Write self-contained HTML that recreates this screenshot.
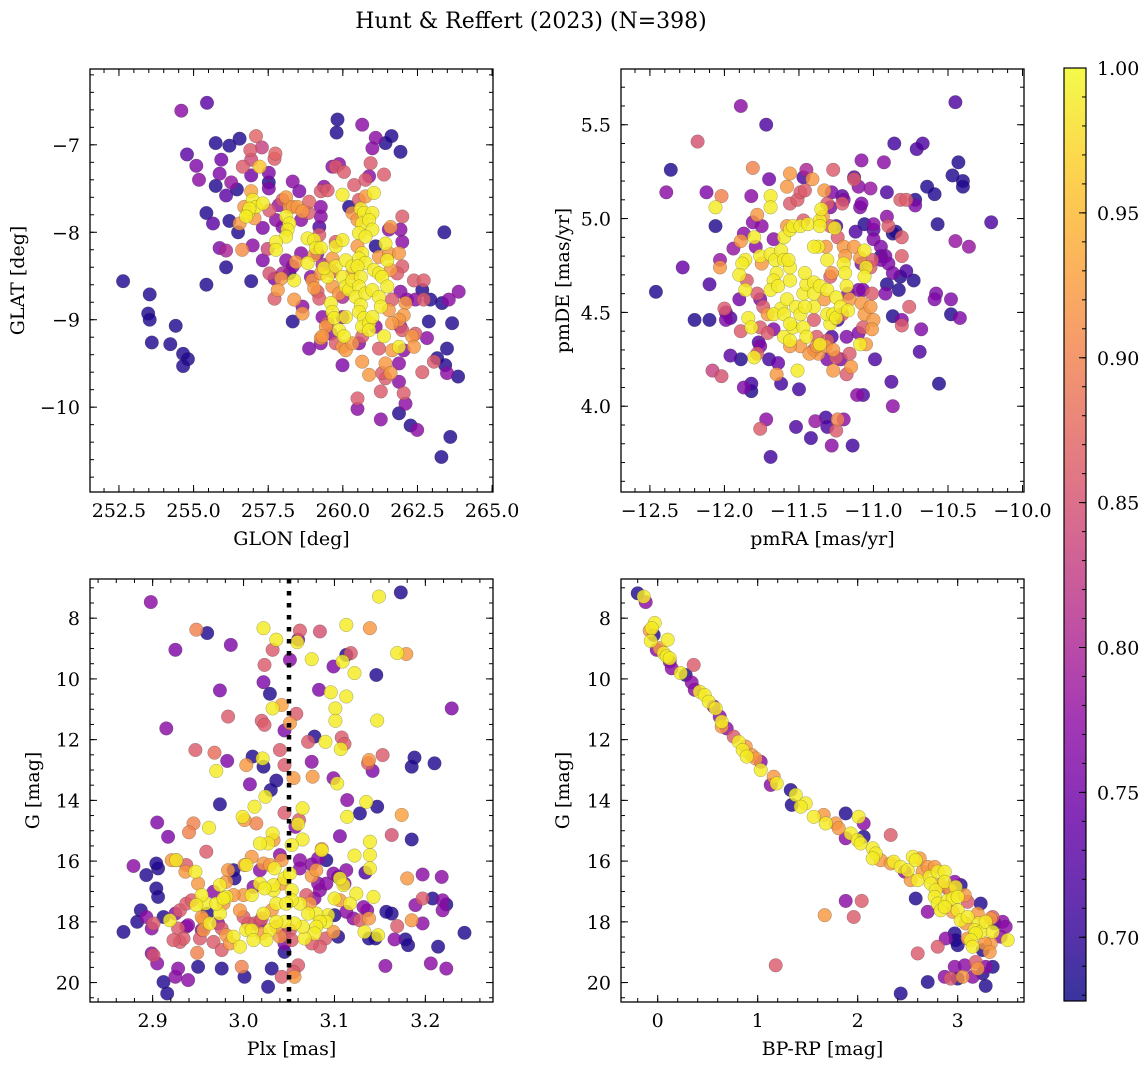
<!DOCTYPE html>
<html><head><meta charset="utf-8"><style>
html,body{margin:0;padding:0;background:#fff;}
svg{display:block;font-family:"DejaVu Serif","Liberation Serif",serif;}
</style></head><body>
<svg id="fig" width="1148" height="1068" viewBox="0 0 1148 1068" xmlns="http://www.w3.org/2000/svg">
<text x="531" y="28" font-size="22" text-anchor="middle">Hunt &amp; Reffert (2023) (N=398)</text>
</svg>
<script>
// ---- data ----
const D=0.69,Y=0.99;
const galacticPts=[
[252.64,-8.56,D],[253.53,-8.71,D],[253.48,-8.93,D],[253.53,-9.00,D],[253.60,-9.26,D],[254.22,-9.28,D],[254.40,-9.07,D],[254.65,-9.39,D],[254.81,-9.45,D],[254.65,-9.53,D],
[254.59,-6.61,0.77],[255.45,-6.52,0.73],[254.78,-7.11,0.73],[255.09,-7.24,0.76],[255.18,-7.40,0.77],[255.43,-7.78,D],[255.65,-7.90,0.73],[255.74,-6.98,D],[255.93,-7.17,0.75],[255.87,-7.33,0.76],
[255.74,-7.47,D],[256.09,-7.58,0.73],[256.20,-7.01,D],[256.54,-6.93,D],[256.26,-7.43,0.78],[256.45,-7.51,D],[255.87,-8.18,0.76],[256.09,-8.21,0.80],[256.09,-8.40,D],[255.43,-8.60,D],
[256.20,-7.87,D],[256.49,-8.00,D],[256.63,-8.20,0.91],[256.93,-8.56,D],[256.98,-8.15,0.77],[256.65,-7.25,0.86],[256.93,-7.35,0.75],[257.09,-6.90,0.87],[256.90,-7.06,0.86],[256.93,-7.17,0.84],
[257.29,-7.03,0.83],[257.21,-7.25,0.96],[257.52,-7.32,0.76],[257.52,-7.43,D],[257.52,-7.50,0.76],[257.74,-7.10,0.87],[257.71,-7.16,0.86],[256.93,-7.53,0.93],[256.70,-7.71,0.92],[256.82,-7.78,Y],
[256.98,-7.63,Y],[257.09,-7.71,Y],[257.32,-7.67,Y],[256.87,-7.73,Y],[256.76,-7.82,Y],[257.04,-7.84,0.92],[256.54,-7.90,0.92],[257.32,-7.95,0.76],[257.32,-8.32,0.76],[257.48,-8.19,0.84],
[257.54,-7.75,0.86],[257.85,-7.69,0.78],[257.76,-7.86,0.77],[257.98,-7.94,0.76],[258.21,-7.71,0.92],[258.10,-7.82,Y],[258.21,-7.90,Y],[258.15,-7.97,Y],[258.10,-8.05,Y],[257.76,-8.11,Y],
[257.76,-8.20,Y],[258.32,-7.42,0.77],[258.54,-7.53,0.76],[257.98,-7.63,0.86],[258.10,-7.60,0.92],[258.32,-7.71,0.92],[258.48,-7.71,0.92],[258.65,-7.76,0.92],[258.87,-7.65,0.87],[258.85,-7.78,0.86],
[258.60,-7.86,0.77],[258.10,-8.32,0.77],[258.21,-8.47,D],[258.43,-8.34,0.92],[257.54,-8.47,0.85],[257.71,-8.53,0.76],[257.93,-8.53,0.92],[257.98,-8.47,0.80],[258.37,-8.55,Y],[258.32,-8.39,0.77],
[257.82,-8.66,0.92],[257.71,-8.76,0.86],[258.60,-8.24,0.77],[258.37,-8.77,0.92],[258.65,-8.85,0.77],[258.65,-8.93,0.92],[258.32,-9.02,D],[258.82,-8.07,Y],[259.04,-8.09,Y],[259.10,-8.18,Y],
[259.26,-8.18,Y],[258.82,-8.35,Y],[259.21,-8.03,0.86],[259.21,-7.94,0.72],[259.26,-7.82,0.77],[259.26,-7.71,0.77],[259.26,-7.53,0.86],[259.37,-7.48,0.77],[259.49,-7.52,0.86],[259.15,-8.24,0.76],
[259.32,-8.37,0.80],[259.04,-8.26,0.92],[258.93,-8.51,0.77],[258.98,-8.55,0.92],[259.26,-8.47,0.92],[259.04,-8.64,0.92],[259.15,-8.68,0.86],[259.21,-8.76,0.86],[259.65,-8.45,0.86],[259.65,-8.62,0.92],
[259.49,-8.51,Y],[259.37,-8.41,Y],[259.65,-8.30,0.92],[259.76,-8.16,Y],[259.76,-8.11,0.86],[259.99,-8.09,Y],[259.76,-8.39,Y],[260.10,-8.32,Y],[259.99,-8.51,Y],[260.10,-8.62,Y],
[259.87,-8.70,0.92],[259.99,-8.74,0.80],[260.21,-8.66,Y],[260.32,-8.47,0.92],[260.32,-8.39,Y],[259.60,-8.81,Y],[259.65,-8.91,Y],[259.71,-8.98,Y],[259.49,-9.04,0.86],[259.60,-9.16,0.77],
[259.87,-9.12,Y],[260.04,-9.19,Y],[260.10,-8.97,Y],[259.99,-8.97,0.77],[259.32,-8.97,0.77],[259.43,-9.08,0.92],[259.26,-9.21,0.92],[259.26,-9.27,0.77],[259.32,-9.19,0.92],[258.87,-9.33,0.76],
[259.76,-9.27,0.86],[259.99,-9.31,0.92],[260.10,-9.35,0.92],[260.32,-9.27,0.92],[259.99,-9.52,0.76],[259.76,-7.25,0.86],[259.65,-7.25,0.77],[259.87,-7.22,0.77],[259.82,-6.71,D],[259.79,-6.86,D],
[260.04,-7.31,0.86],[259.99,-7.57,Y],[260.21,-7.71,D],[260.32,-7.78,0.92],[260.38,-7.46,0.86],[260.54,-7.63,0.86],[260.65,-6.77,0.77],[260.76,-7.40,0.86],[260.88,-7.36,0.77],[261.10,-6.92,0.77],
[260.99,-7.04,0.77],[260.93,-7.21,0.86],[261.43,-6.98,D],[261.63,-6.90,D],[261.38,-7.34,0.86],[261.93,-7.08,D],[261.04,-7.55,Y],[260.76,-7.59,0.92],[260.60,-7.73,Y],[260.71,-7.78,Y],
[260.99,-7.78,Y],[260.65,-7.90,Y],[260.88,-7.86,Y],[260.99,-7.97,Y],[260.54,-8.01,Y],[260.49,-7.86,0.92],[260.76,-8.05,Y],[260.49,-8.16,0.92],[260.65,-8.24,Y],[260.54,-8.30,Y],
[260.76,-8.35,Y],[260.49,-8.39,Y],[260.32,-8.55,Y],[260.60,-8.51,Y],[260.54,-8.62,Y],[260.43,-8.74,Y],[260.76,-8.70,Y],[260.99,-8.66,Y],[261.04,-8.43,Y],[261.10,-8.16,D],
[261.21,-8.28,0.92],[261.21,-8.47,Y],[261.32,-8.51,Y],[261.43,-8.13,Y],[261.49,-8.32,Y],[261.54,-8.24,0.92],[261.60,-8.43,0.92],[261.49,-8.62,Y],[261.21,-8.74,Y],[261.27,-8.85,Y],
[261.54,-7.97,0.77],[261.60,-7.94,0.92],[261.93,-7.97,0.77],[261.99,-8.11,0.77],[261.88,-8.24,0.92],[261.99,-8.39,0.86],[261.82,-8.47,0.86],[261.93,-8.68,0.77],[261.65,-8.77,0.86],[261.54,-8.89,0.92],
[262.10,-8.81,0.92],[262.04,-8.95,0.92],[262.15,-8.77,0.77],[261.88,-9.00,0.92],[261.93,-9.08,0.77],[261.65,-9.04,0.92],[261.99,-9.12,0.86],[260.60,-8.83,Y],[260.54,-8.91,Y],[260.71,-8.98,Y],
[260.65,-9.08,Y],[260.88,-9.04,Y],[260.99,-8.97,Y],[260.88,-9.12,Y],[261.10,-9.08,0.77],[260.65,-9.19,0.86],[260.54,-9.27,0.77],[261.38,-9.19,Y],[261.88,-9.31,Y],[261.65,-9.35,0.92],
[262.04,-9.35,0.77],[262.32,-9.19,0.92],[262.43,-9.16,0.86],[261.99,-7.82,0.86],[262.38,-8.55,0.86],[262.71,-8.55,0.86],[262.66,-8.66,D],[262.93,-8.77,D],[262.71,-8.77,0.86],[262.88,-9.02,D],
[262.82,-9.21,0.77],[262.43,-8.77,0.77],[262.38,-9.31,0.92],[261.43,-9.50,0.92],[261.60,-9.61,0.92],[261.43,-9.67,0.86],[261.32,-9.61,0.86],[260.65,-9.48,0.92],[260.88,-9.63,0.92],[261.21,-9.33,0.86],
[261.88,-9.50,0.77],[261.88,-9.71,0.77],[262.04,-9.84,0.86],[262.10,-9.96,0.77],[261.88,-10.07,D],[262.27,-10.21,D],[262.49,-10.26,0.77],[261.27,-9.82,0.86],[261.27,-10.14,0.77],[260.49,-9.90,0.86],
[260.49,-10.02,0.77],[262.66,-9.60,0.86],[263.05,-9.48,0.86],[263.16,-9.44,D],[263.43,-9.52,D],[263.49,-9.61,0.77],[263.49,-9.33,D],[263.32,-8.81,D],[263.55,-8.77,0.77],[263.88,-8.68,0.77],
[263.66,-9.04,D],[263.86,-9.65,D],[263.40,-8.00,D],[263.60,-10.34,D],[263.30,-10.57,D]
];
const properMotionPts=[
[-12.46,4.61,D],[-12.36,5.26,D],[-12.39,5.14,0.77],[-12.28,4.74,0.74],[-12.20,4.46,D],[-12.18,5.41,0.85],[-12.12,5.14,0.76],[-12.10,4.65,0.72],[-12.10,4.46,D],[-12.06,4.96,D],
[-12.06,5.06,Y],[-12.02,5.12,0.90],[-12.03,4.78,0.78],[-12.03,4.74,0.92],[-12.00,4.52,0.86],[-11.99,4.50,0.76],[-11.96,4.47,0.72],[-11.99,4.46,0.76],[-11.96,4.27,0.73],[-12.08,4.19,0.83],
[-12.02,4.16,0.85],[-11.89,5.60,0.77],[-11.72,5.50,0.72],[-11.81,5.27,0.90],[-11.70,5.21,0.75],[-11.82,5.12,0.77],[-11.87,4.10,0.76],[-11.82,4.08,D],[-11.82,4.12,0.71],[-11.89,4.25,D],
[-11.90,4.57,0.75],[-11.89,4.40,0.86],[-11.94,4.84,0.78],[-11.89,4.88,0.92],[-11.87,4.92,0.77],[-11.86,4.78,Y],[-11.88,4.76,Y],[-11.90,4.70,Y],[-11.86,4.62,Y],[-11.85,4.67,0.86],
[-11.84,4.47,Y],[-11.82,4.42,Y],[-11.80,4.26,Y],[-11.78,4.28,0.86],[-11.76,4.32,0.76],[-11.77,4.34,0.72],[-11.81,4.98,0.77],[-11.78,5.02,0.92],[-11.75,4.96,0.77],[-11.80,4.90,Y],
[-11.79,4.85,0.77],[-11.76,4.80,Y],[-11.75,4.76,0.92],[-11.78,4.60,0.86],[-11.76,4.57,0.76],[-11.74,4.53,0.86],[-11.71,4.49,0.92],[-11.76,4.42,0.86],[-11.71,4.39,0.86],[-11.70,4.25,0.71],
[-11.67,4.41,0.76],[-11.69,5.12,Y],[-11.69,5.06,Y],[-11.72,3.93,0.77],[-11.76,3.88,0.86],[-11.69,3.73,0.71],[-11.65,4.17,0.92],[-11.62,4.12,0.71],[-11.64,4.23,0.74],[-11.67,4.89,0.77],
[-11.69,4.81,Y],[-11.66,4.78,Y],[-11.62,4.83,Y],[-11.60,4.90,Y],[-11.60,4.78,Y],[-11.65,4.71,Y],[-11.67,4.67,Y],[-11.69,4.62,Y],[-11.64,4.64,Y],[-11.62,4.52,Y],
[-11.67,4.49,Y],[-11.60,4.49,Y],[-11.58,4.57,Y],[-11.56,4.67,Y],[-11.56,4.74,Y],[-11.57,4.78,Y],[-11.56,4.94,Y],[-11.58,4.96,0.92],[-11.54,4.96,Y],[-11.49,4.96,Y],
[-11.47,4.99,0.86],[-11.44,4.97,Y],[-11.56,5.24,0.92],[-11.58,5.17,0.92],[-11.56,5.08,0.86],[-11.51,5.10,0.86],[-11.49,5.14,0.86],[-11.45,5.26,0.80],[-11.47,5.22,0.72],[-11.46,5.15,0.86],
[-11.41,5.21,0.92],[-11.60,4.37,Y],[-11.56,4.35,Y],[-11.54,4.42,Y],[-11.56,4.44,Y],[-11.52,4.53,Y],[-11.49,4.49,Y],[-11.47,4.60,Y],[-11.45,4.65,Y],[-11.46,4.71,Y],
[-11.40,4.66,Y],[-11.40,4.60,Y],[-11.36,4.64,Y],[-11.40,4.53,Y],[-11.46,4.53,Y],[-11.47,4.42,Y],[-11.45,4.37,Y],[-11.40,4.46,0.86],[-11.38,4.37,0.86],[-11.36,4.33,Y],
[-11.37,4.28,0.92],[-11.40,4.30,0.86],[-11.49,4.32,0.92],[-11.56,4.32,0.92],[-11.43,4.28,0.92],[-11.50,4.09,0.71],[-11.51,4.19,Y],[-11.38,4.32,0.92],[-11.32,4.32,0.92],[-11.31,4.35,0.86],
[-11.29,4.44,Y],[-11.31,4.49,Y],[-11.33,4.57,0.92],[-11.31,4.62,Y],[-11.29,4.69,0.86],[-11.31,4.78,Y],[-11.32,4.85,0.92],[-11.37,4.85,Y],[-11.40,4.85,Y],[-11.36,4.99,Y],
[-11.34,5.01,0.92],[-11.35,5.05,Y],[-11.36,4.96,Y],[-11.29,4.96,0.86],[-11.28,5.14,0.76],[-11.33,5.15,0.92],[-11.31,5.08,0.86],[-11.29,5.06,0.76],[-11.27,5.26,0.86],[-11.26,4.95,Y],
[-11.25,4.96,0.72],[-11.24,4.90,0.86],[-11.28,4.71,0.92],[-11.25,4.58,Y],[-11.27,4.49,Y],[-11.25,4.47,Y],[-11.22,4.53,Y],[-11.24,4.46,0.72],[-11.28,4.37,0.72],[-11.27,4.30,0.92],
[-11.25,4.26,0.86],[-11.22,4.25,0.76],[-11.31,4.25,0.76],[-11.27,4.19,0.92],[-11.21,5.08,0.86],[-11.20,5.10,0.76],[-11.21,5.12,0.73],[-11.20,4.85,0.92],[-11.19,4.80,0.92],[-11.20,4.76,Y],
[-11.19,4.71,Y],[-11.18,4.64,Y],[-11.17,4.60,0.77],[-11.16,4.57,0.92],[-11.17,4.51,Y],[-11.21,4.49,0.86],[-11.18,4.37,0.76],[-11.18,4.17,0.86],[-11.20,3.93,0.77],[-11.24,3.93,0.90],
[-11.25,3.87,0.86],[-11.28,3.79,0.77],[-11.31,3.89,0.72],[-11.32,3.94,0.71],[-11.42,3.83,0.71],[-11.52,3.89,0.72],[-11.39,3.92,0.78],[-11.14,3.79,0.71],[-11.15,4.21,0.92],[-11.16,4.28,0.86],
[-11.09,4.33,Y],[-11.05,4.33,0.92],[-11.13,5.22,0.72],[-11.13,5.21,0.86],[-11.10,5.17,0.77],[-11.08,5.31,0.77],[-11.02,5.16,0.78],[-11.09,5.06,0.76],[-11.08,5.08,0.76],[-11.12,4.93,0.72],
[-11.13,4.85,0.92],[-11.09,4.79,0.92],[-11.06,4.83,Y],[-11.08,4.76,0.76],[-11.05,4.74,Y],[-11.06,4.69,Y],[-11.10,4.62,0.76],[-11.07,4.62,0.76],[-11.08,4.55,0.92],[-11.06,4.49,0.92],
[-11.07,4.42,0.86],[-11.10,4.39,0.76],[-11.02,4.53,0.92],[-11.00,4.46,0.92],[-11.01,4.41,0.92],[-11.01,4.60,0.86],[-11.02,4.74,0.86],[-11.01,4.78,0.86],[-10.99,4.25,0.72],[-11.11,4.06,0.77],
[-11.07,4.06,0.72],[-11.06,4.97,D],[-11.00,4.97,0.77],[-11.00,4.94,0.73],[-11.00,4.89,0.76],[-10.95,4.85,0.76],[-10.95,4.80,D],[-10.92,4.80,0.76],[-10.95,4.78,0.76],[-10.90,4.76,0.76],
[-10.87,4.71,0.76],[-10.91,4.65,D],[-10.92,4.60,0.76],[-10.83,4.62,D],[-10.82,4.69,D],[-10.78,4.72,0.72],[-10.73,4.67,D],[-10.87,4.48,D],[-10.81,4.46,0.76],[-10.81,4.43,0.86],
[-10.76,4.53,0.86],[-10.68,4.41,0.76],[-10.69,4.29,0.72],[-10.88,4.13,0.72],[-10.87,4.00,0.77],[-10.91,5.14,0.72],[-10.93,5.30,0.77],[-10.91,5.01,0.77],[-10.90,4.96,0.86],[-10.87,4.92,D],
[-10.85,4.93,D],[-10.81,4.90,0.86],[-10.81,4.80,0.86],[-10.82,5.10,0.86],[-10.78,5.10,0.86],[-10.72,5.07,0.76],[-10.72,5.10,D],[-10.71,5.37,0.72],[-10.67,5.40,0.72],[-10.86,5.40,0.71],
[-10.64,5.17,D],[-10.59,5.13,D],[-10.57,4.97,D],[-10.58,4.60,0.76],[-10.59,4.57,0.76],[-10.48,4.57,0.76],[-10.48,4.49,D],[-10.42,4.47,0.76],[-10.56,4.12,D],[-10.47,5.23,D],
[-10.43,5.30,D],[-10.40,5.20,D],[-10.40,5.17,D],[-10.45,4.88,0.78],[-10.36,4.85,0.78],[-10.45,5.62,0.72],[-10.21,4.98,0.72]
];
const cmdPlxPts=[
[2.898,7.47,0.77],[2.948,8.38,0.90],[2.960,8.49,D],[2.925,9.04,0.76],[2.986,8.88,0.76],[3.022,8.33,Y],[3.036,8.71,Y],[3.032,9.04,0.86],[3.023,9.54,0.86],[3.062,8.41,0.86],
[3.060,8.71,0.76],[3.059,8.79,Y],[3.051,9.37,0.77],[3.084,8.44,0.85],[3.113,8.22,Y],[3.139,8.33,0.92],[3.149,7.29,Y],[3.173,7.15,D],[3.118,9.15,0.86],[3.113,9.21,D],
[3.109,9.43,Y],[3.099,9.59,0.76],[3.075,9.35,Y],[3.122,9.81,Y],[3.146,9.87,D],[3.169,9.15,Y],[3.179,9.18,0.92],[3.229,10.97,0.76],[3.022,10.11,0.76],[3.029,10.49,D],
[3.083,10.36,0.76],[3.096,10.44,Y],[3.113,10.58,Y],[3.101,10.97,Y],[3.101,11.38,Y],[3.147,11.37,Y],[2.974,10.38,0.76],[2.915,11.63,0.77],[2.983,11.24,0.86],[3.032,10.97,Y],
[3.042,10.86,0.93],[3.058,11.15,0.86],[3.051,11.46,0.92],[3.020,11.38,0.86],[3.023,11.51,0.86],[3.045,11.70,0.76],[3.078,11.90,D],[3.071,12.07,0.86],[3.090,12.07,Y],[3.108,11.93,0.86],
[3.111,12.14,0.86],[3.107,12.31,Y],[2.947,12.34,0.86],[2.968,12.43,0.88],[2.970,13.03,Y],[2.982,12.70,0.76],[3.003,12.84,0.92],[3.010,12.56,D],[3.021,12.62,Y],[3.022,12.89,D],
[3.040,12.34,0.86],[3.045,12.84,0.86],[3.055,13.27,0.92],[3.075,12.73,0.77],[3.076,13.22,0.92],[3.099,13.27,0.77],[3.103,13.44,Y],[3.138,12.67,0.92],[3.137,12.78,0.86],[3.142,13.03,0.76],
[3.153,12.51,0.86],[3.188,12.59,D],[3.185,12.89,D],[3.210,12.78,D],[3.007,13.47,0.76],[3.036,13.35,D],[3.030,13.66,D],[3.024,13.88,Y],[2.974,14.13,D],[3.012,14.21,Y],
[2.999,14.54,Y],[3.001,14.65,0.92],[3.014,14.76,0.90],[2.962,14.90,Y],[2.945,14.76,0.90],[2.940,15.05,0.90],[2.905,14.73,0.76],[2.917,15.20,0.76],[3.045,14.41,0.86],[3.061,14.65,0.86],
[3.060,14.78,Y],[3.057,14.87,0.77],[3.065,14.26,Y],[3.065,15.29,Y],[3.053,15.47,Y],[3.032,15.09,Y],[3.027,15.42,Y],[3.018,15.42,Y],[3.033,15.31,0.92],[3.114,13.99,0.77],
[3.114,14.54,Y],[3.128,14.43,D],[3.135,14.05,Y],[3.147,14.21,D],[3.174,14.48,0.93],[3.185,15.29,D],[3.163,15.14,0.85],[3.106,15.18,0.76],[3.139,15.36,Y],[3.139,15.80,Y],
[3.122,15.82,Y],[3.086,15.64,Y],[3.086,15.60,0.92],[3.075,16.11,0.77],[3.139,16.24,Y],[3.134,16.38,0.72],[3.113,16.30,0.77],[3.180,16.57,0.92],[3.197,16.44,0.77],[3.218,16.52,0.77],
[3.243,18.36,D],[3.223,17.43,D],[3.219,17.29,0.77],[3.208,17.23,D],[3.219,17.62,0.77],[3.197,17.23,0.86],[3.189,17.45,0.77],[3.185,17.95,0.92],[3.197,18.05,0.77],[3.181,18.77,D],
[3.178,18.58,D],[3.166,18.58,0.77],[3.169,18.14,0.86],[3.206,19.37,0.77],[3.214,18.82,D],[3.223,19.54,0.77],[3.156,19.45,0.77],[3.163,17.73,D],[3.157,17.67,D],[3.148,18.44,Y],
[3.145,18.55,D],[3.138,18.55,D],[3.133,18.33,Y],[3.138,17.89,0.92],[3.136,17.62,0.77],[3.132,17.51,0.77],[3.143,17.18,Y],[3.124,17.07,Y],[3.110,16.79,Y],[3.106,16.57,Y],
[3.117,17.40,Y],[3.106,17.29,0.92],[3.100,17.23,Y],[3.113,17.67,0.77],[3.121,17.89,0.77],[3.128,17.95,0.86],[3.100,17.78,D],[3.093,17.78,Y],[3.099,18.33,0.92],[3.090,18.55,0.86],
[3.104,18.49,D],[3.091,18.00,Y],[3.080,17.73,Y],[3.084,18.00,Y],[3.080,18.16,Y],[3.078,18.38,Y],[3.084,18.82,0.86],[3.075,18.71,0.86],[3.067,18.55,Y],[3.065,18.16,Y],
[3.071,17.73,Y],[3.073,17.40,0.92],[3.078,17.23,0.77],[3.084,16.96,0.77],[3.082,16.74,0.77],[3.091,16.74,0.77],[3.075,16.49,0.92],[3.069,17.12,0.86],[3.062,17.40,Y],[3.056,18.05,Y],
[3.051,18.27,0.86],[3.053,18.60,0.86],[3.045,18.44,0.77],[3.040,18.49,0.92],[3.036,18.16,0.92],[3.029,18.27,Y],[3.025,18.60,Y],[3.022,17.73,Y],[3.031,17.62,0.92],[3.036,17.40,Y],
[3.033,16.96,Y],[3.033,16.79,Y],[3.042,16.74,0.92],[3.045,16.57,Y],[3.051,16.41,Y],[3.053,16.96,Y],[3.053,17.29,Y],[3.047,17.40,Y],[3.045,18.00,Y],[3.036,18.00,Y],
[3.045,18.99,D],[3.045,18.71,0.76],[3.042,19.81,0.86],[3.027,20.14,D],[3.031,19.54,D],[3.060,19.43,0.86],[3.056,19.81,0.92],[3.055,19.65,0.86],[3.001,19.81,D],[2.998,19.48,0.90],
[2.976,19.54,D],[2.950,19.48,D],[2.939,19.92,0.77],[2.925,19.81,0.77],[2.928,19.54,0.77],[2.912,19.98,D],[2.916,20.36,D],[2.905,19.37,0.77],[2.899,19.04,0.77],[2.901,19.10,0.85],
[2.930,18.66,0.86],[2.949,19.02,0.90],[2.952,18.55,0.86],[2.954,18.27,0.77],[2.963,18.05,Y],[2.956,17.92,0.92],[2.967,18.66,0.86],[2.976,18.93,0.86],[2.976,18.22,0.86],[2.981,18.44,0.92],
[2.985,18.71,0.92],[2.989,18.49,Y],[2.996,18.82,Y],[3.003,18.27,Y],[3.009,18.27,Y],[3.011,18.60,Y],[3.020,18.38,0.92],[3.012,18.05,0.86],[3.005,18.05,0.86],[3.018,18.00,0.77],
[3.020,17.89,0.86],[2.996,17.62,0.92],[3.000,17.84,0.86],[3.009,17.12,Y],[3.000,17.12,0.92],[2.989,17.12,0.92],[2.981,17.18,Y],[2.978,17.40,0.92],[2.974,17.73,Y],[2.972,18.05,0.77],
[2.960,17.73,D],[2.958,17.40,Y],[2.954,17.12,Y],[2.950,16.74,0.92],[2.947,16.35,Y],[2.937,16.13,0.86],[2.936,16.35,0.92],[2.926,15.97,0.86],[2.921,15.97,0.92],[2.926,15.97,Y],
[2.906,16.24,D],[2.904,16.08,D],[2.893,16.46,D],[2.879,16.16,0.77],[2.904,16.90,D],[2.906,17.18,D],[2.887,17.62,D],[2.883,18.00,D],[2.893,17.84,0.77],[2.901,18.05,0.86],
[2.899,18.22,0.77],[2.868,18.33,D],[2.912,17.84,D],[2.919,17.95,Y],[2.925,17.73,0.77],[2.930,17.62,0.86],[2.937,17.40,0.86],[2.943,17.29,0.86],[2.948,17.45,Y],[2.954,17.84,0.92],
[2.956,18.27,0.92],[2.937,18.16,0.77],[2.928,18.22,0.86],[2.934,18.55,0.86],[2.939,18.11,0.77],[2.923,18.60,0.86],[2.989,16.30,D],[2.990,16.57,D],[3.001,16.13,0.92],[3.009,15.86,0.92],
[3.018,16.30,0.77],[3.018,16.74,Y],[3.023,16.90,Y],[3.011,16.85,0.77],[2.967,17.01,0.77],[2.970,17.40,Y],[2.978,17.23,Y],[2.974,16.79,Y],[2.981,16.68,0.92],[2.983,16.30,0.92],
[2.959,15.69,0.86],[3.003,16.13,Y],[3.022,16.08,0.92],[3.029,16.13,0.92],[3.034,16.24,Y],[3.040,15.80,0.77],[3.042,15.97,0.92],[3.062,15.97,0.77],[3.062,16.24,0.77],[3.080,16.30,0.92],
[3.082,15.91,0.77],[3.091,15.97,D],[3.099,16.41,0.77],[3.104,16.52,D],[3.111,16.74,0.77]
];
const cmdColorPts=[
[-0.20,7.18,D],[-0.14,7.29,Y],[-0.12,7.47,0.77],[-0.03,8.16,Y],[-0.08,8.41,0.92],[-0.06,8.33,Y],[-0.04,8.55,D],[-0.07,8.75,Y],[-0.01,9.04,0.77],[0.02,8.99,0.92],
[0.06,9.15,Y],[0.09,9.26,Y],[0.12,9.43,0.77],[0.12,9.32,Y],[0.10,8.71,Y],[0.14,9.65,0.77],[0.36,9.54,0.86],[0.23,9.81,Y],[0.28,9.87,D],[0.34,10.12,0.77],
[0.37,10.36,0.77],[0.42,10.42,Y],[0.47,10.53,Y],[0.51,10.75,Y],[0.56,10.91,0.77],[0.58,10.97,Y],[0.62,11.24,0.77],[0.64,11.41,Y],[0.69,11.63,0.77],[0.64,11.57,0.92],
[0.76,11.90,0.86],[0.81,12.07,Y],[0.85,12.34,Y],[0.89,12.56,Y],[0.88,12.23,0.92],[0.94,12.51,0.92],[0.98,12.62,0.92],[1.03,12.73,0.77],[1.03,13.00,Y],[1.16,13.22,0.92],
[1.19,13.44,Y],[1.13,13.49,0.77],[1.33,13.66,D],[1.38,13.82,Y],[1.34,14.15,D],[1.48,14.10,Y],[1.43,14.21,Y],[1.56,14.54,Y],[1.66,14.48,0.92],[1.68,14.76,Y],
[1.78,14.76,0.92],[1.81,14.92,0.92],[1.88,14.43,D],[2.01,14.54,Y],[2.06,14.76,0.77],[1.93,15.09,Y],[1.88,15.25,0.77],[2.00,15.31,Y],[2.03,15.42,Y],[2.06,15.20,D],
[2.15,15.58,Y],[2.18,15.75,Y],[2.15,15.91,Y],[2.33,15.14,0.86],[2.23,15.97,0.92],[2.36,16.02,Y],[2.33,16.08,0.92],[2.43,16.19,Y],[2.47,16.35,0.77],[2.50,16.30,Y],
[2.55,15.86,Y],[2.58,15.97,Y],[2.62,15.91,0.92],[2.53,16.63,0.92],[2.60,16.63,Y],[2.65,16.35,0.92],[2.70,16.19,0.92],[2.72,16.52,Y],[2.77,16.19,0.92],[2.80,16.35,Y],
[2.87,16.35,Y],[2.58,17.23,D],[2.70,17.67,0.77],[2.73,16.74,Y],[2.78,16.96,Y],[2.83,16.79,0.92],[2.87,16.68,Y],[2.90,16.90,0.86],[2.93,16.96,0.92],[2.97,16.68,0.77],
[2.98,16.85,Y],[3.03,16.79,D],[2.77,17.18,Y],[2.80,17.40,Y],[2.83,17.62,Y],[2.90,17.29,Y],[2.95,17.23,Y],[3.00,17.18,Y],[3.07,17.12,0.92],[3.10,17.34,0.86],
[2.87,17.51,Y],[2.95,17.67,0.92],[3.00,17.62,Y],[3.03,17.95,Y],[3.08,18.05,0.92],[3.10,17.84,Y],[3.20,17.73,0.92],[3.23,17.40,D],[3.21,18.05,Y],[3.17,18.27,Y],
[3.23,18.33,Y],[3.18,18.38,Y],[3.28,18.00,Y],[3.33,17.89,0.92],[3.35,17.84,0.86],[3.35,18.33,Y],[3.37,18.05,D],[3.33,18.71,0.92],[3.27,18.71,0.92],[3.45,18.00,0.77],
[3.48,18.16,0.77],[3.50,18.60,Y],[3.43,18.49,0.77],[3.13,18.60,Y],[3.10,18.55,0.92],[3.15,18.82,Y],[3.25,18.93,D],[3.32,18.99,0.92],[2.97,18.38,D],[2.98,18.60,D],
[3.00,18.77,D],[2.88,18.55,0.77],[2.80,18.82,0.86],[2.60,19.04,0.86],[2.97,19.48,0.77],[2.87,19.81,0.77],[2.93,19.87,0.86],[3.00,19.87,D],[3.07,19.43,0.77],[3.15,19.81,0.77],
[3.05,19.81,0.92],[3.18,19.32,0.86],[3.20,19.54,0.92],[3.25,19.70,D],[3.28,19.48,0.77],[3.35,19.48,D],[3.28,20.11,D],[2.70,19.98,D],[2.43,20.36,D],[1.88,17.31,0.77],
[2.04,17.31,0.86],[1.96,17.84,0.86],[1.67,17.78,0.92],[1.18,19.43,0.86]
];
// axis tick values
const p1XTicks=[252.5,255.0,257.5,260.0,262.5,265.0], p1YTicks=[-7,-8,-9,-10];
const p2XTicks=[-12.5,-12.0,-11.5,-11.0,-10.5,-10.0], p2YTicks=[5.5,5.0,4.5,4.0];
const p3XTicks=[2.9,3.0,3.1,3.2], gTicks=[8,10,12,14,16,18,20];
const p4XTicks=[0,1,2,3];
const cbTicks=[0.70,0.75,0.80,0.85,0.90,0.95,1.00];
const plxRef=[3.05];
const vmin=0.678, vmax=1.0;

// ---- drawing ----
const NS='http://www.w3.org/2000/svg';
const svg=document.getElementById('fig');
const FS=19;
function el(tag,attrs,parent){const e=document.createElementNS(NS,tag);for(const k in attrs)e.setAttribute(k,attrs[k]);(parent||svg).appendChild(e);return e;}
const plasma=[[13,8,135],[65,4,157],[106,0,168],[143,13,164],[177,42,144],[204,71,120],[225,100,98],[242,132,75],[252,166,54],[252,206,37],[240,249,33]];
function cmap(v){let t=(v-vmin)/(vmax-vmin);t=Math.max(0,Math.min(1,t))*10;const i=Math.min(9,Math.floor(t)),f=t-i;const a=plasma[i],b=plasma[i+1];return 'rgb('+[0,1,2].map(k=>Math.round(a[k]+(b[k]-a[k])*f)).join(',')+')';}
function fmt(v,d){const s=Math.abs(v).toFixed(d);return v<0?'\u2212'+s:s;}

function panel(cfg){
  const {L,R,T,B,xr,yr,name}=cfg;
  const sx=v=>L+(v-xr[0])/(xr[1]-xr[0])*(R-L);
  const sy=v=>T+(v-yr[0])/(yr[1]-yr[0])*(B-T);
  const g=el('g',{});
  
  
  const clip=el('clipPath',{id:name+'-clip'},g);el('rect',{x:L,y:T,width:R-L,height:B-T},clip);
  const pg=el('g',{'clip-path':'url(#'+name+'-clip)'},g);
  const pts=cfg.pts.slice().sort((a,b)=>a[2]-b[2]);
  pts.forEach(p=>{
    const c=el('circle',{cx:sx(p[0]).toFixed(1),cy:sy(p[1]).toFixed(1),r:6.8,fill:cmap(p[2]),'fill-opacity':0.82,stroke:'rgba(60,60,60,0.45)','stroke-width':0.5},pg);
    
    
  });
  if(cfg.vline){cfg.vline.forEach(v=>{const ln=el('line',{x1:sx(v),x2:sx(v),y1:T,y2:B,stroke:'#000','stroke-width':4.5,'stroke-dasharray':'4.5,7.5'},pg);
    
    });}
  const tk=el('g',{stroke:'#000','stroke-width':1},g);
  function xt(v,len){const x=sx(v);if(x<L-0.5||x>R+0.5)return;el('line',{x1:x,x2:x,y1:B,y2:B-len},tk);el('line',{x1:x,x2:x,y1:T,y2:T+len},tk);}
  function yt(v,len){const y=sy(v);if(y<T-0.5||y>B+0.5)return;el('line',{x1:L,x2:L+len,y1:y,y2:y},tk);el('line',{x1:R,x2:R-len,y1:y,y2:y},tk);}
  const lo=Math.min(...xr),hi=Math.max(...xr);
  for(let v=Math.ceil(lo/cfg.xmin-1e-6)*cfg.xmin;v<=hi+1e-9;v+=cfg.xmin)xt(v,4);
  const ylo=Math.min(...yr),yhi=Math.max(...yr);
  for(let v=Math.ceil(ylo/cfg.ymin-1e-6)*cfg.ymin;v<=yhi+1e-9;v+=cfg.ymin)yt(v,4);
  cfg.xt.forEach(v=>{xt(v,7);const t=el('text',{x:sx(v),y:B+25,'font-size':FS,'text-anchor':'middle'},g);t.textContent=fmt(v,cfg.xd);
    });
  cfg.yt.forEach(v=>{yt(v,7);const t=el('text',{x:L-10,y:sy(v)+7,'font-size':FS,'text-anchor':'end'},g);t.textContent=fmt(v,cfg.yd);
    });
  el('rect',{x:L,y:T,width:R-L,height:B-T,fill:'none',stroke:'#000','stroke-width':1.3},g);
  const xl=el('text',{x:(L+R)/2,y:B+53,'font-size':FS,'text-anchor':'middle'},g);xl.textContent=cfg.xlab;
  
  const yl=el('text',{x:0,y:0,'font-size':FS,'text-anchor':'middle',transform:'translate('+cfg.ylx+','+((T+B)/2)+') rotate(-90)'},g);yl.textContent=cfg.ylab;
  
}
panel({name:'glon-glat-panel',L:90,R:493,T:69,B:492,xr:[251.53,265.03],yr:[-6.133,-10.97],pts:galacticPts,xt:p1XTicks,yt:p1YTicks,xd:1,yd:0,xmin:0.5,ymin:0.2,xlab:'GLON [deg]',ylab:'GLAT [deg]',ylx:24});
panel({name:'proper-motion-panel',L:621,R:1024,T:69,B:492,xr:[-12.694,-9.99],yr:[5.797,3.543],pts:properMotionPts,xt:p2XTicks,yt:p2YTicks,xd:1,yd:1,xmin:0.1,ymin:0.1,xlab:'pmRA [mas/yr]',ylab:'pmDE [mas/yr]',ylx:569});
panel({name:'plx-g-panel',L:90,R:493,T:579,B:1002,xr:[2.8311,3.2744],yr:[6.71,20.64],pts:cmdPlxPts,xt:p3XTicks,yt:gTicks,xd:1,yd:0,xmin:0.02,ymin:0.5,xlab:'Plx [mas]',ylab:'G [mag]',ylx:39,vline:plxRef});
panel({name:'color-magnitude-panel',L:621,R:1024,T:579,B:1002,xr:[-0.367,3.663],yr:[6.71,20.64],pts:cmdColorPts,xt:p4XTicks,yt:gTicks,xd:0,yd:0,xmin:0.2,ymin:0.5,xlab:'BP-RP [mag]',ylab:'G [mag]',ylx:569});

(function(){
  const L=1064,R=1086,T=68,B=1001;
  const g=el('g',{});
  
  
  const defs=el('defs',{},g);
  const lg=el('linearGradient',{id:'cbgrad',x1:0,y1:1,x2:0,y2:0},defs);
  for(let i=0;i<=10;i++){el('stop',{offset:(i/10),'stop-color':'rgb('+plasma[i].join(',')+')'},lg);}
  el('rect',{x:L,y:T,width:R-L,height:B-T,fill:'url(#cbgrad)','fill-opacity':0.82},g);
  const sy=v=>B-(v-vmin)/(vmax-vmin)*(B-T);
  for(let v=0.68;v<=1.0001;v+=0.01){const y=sy(v);el('line',{x1:R,x2:R-4,y1:y,y2:y,stroke:'#000'},g);}
  cbTicks.forEach(v=>{const y=sy(v);el('line',{x1:R,x2:R-7,y1:y,y2:y,stroke:'#000'},g);
    const t=el('text',{x:R+11,y:y+7,'font-size':FS},g);t.textContent=v.toFixed(2);
    });
  el('rect',{x:L,y:T,width:R-L,height:B-T,fill:'none',stroke:'#000','stroke-width':1.2},g);
})();
</script>
</body></html>
